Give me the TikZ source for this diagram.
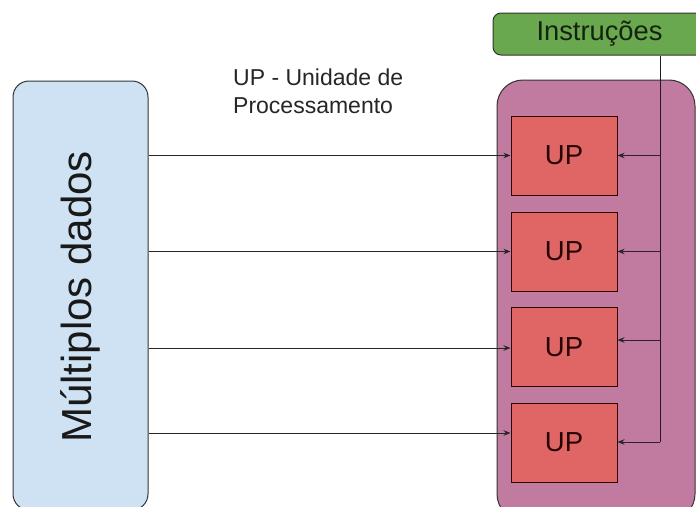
\documentclass[tikz,border=0pt]{standalone}
\usepackage{fontspec}
\setmainfont{Liberation Sans}
\usetikzlibrary{arrows.meta}
\definecolor{dblue}{HTML}{CFE2F3}
\definecolor{dpurple}{HTML}{C27BA0}
\definecolor{dred}{HTML}{E06666}
\definecolor{dgreen}{HTML}{6AA84F}
\definecolor{lgray}{HTML}{333333}
\tikzset{
  bigbox/.style={draw=lgray, line width=1pt, rounded corners=#1, inner sep=0pt},
  upbox/.style={draw=black!80!red, line width=1pt, fill=dred, minimum width=106pt, minimum height=79pt, inner sep=0pt, font=\fontsize{27.5}{31}\selectfont, text=black!85!red},
  arr/.style={line width=0.9pt, draw=black!85, -{Stealth[length=7pt,width=5.5pt]}},
  bus/.style={line width=0.9pt, draw=black!80!dpurple},
  lab/.style={anchor=base west, inner sep=0pt, font=\fontsize{23}{27}\selectfont, text=black!85}
}
\begin{document}
\begin{tikzpicture}[x=1pt,y=-1pt]
\useasboundingbox (0,0) rectangle (696,506);
\clip (0,0) rectangle (696,506);
\fill[white] (0,0) rectangle (696,506);
% left data box
\node[bigbox=16pt, fill=dblue, minimum width=135pt, minimum height=429pt] (dados) at (80.5,295.5) {};
\node[rotate=90, font=\fontsize{42}{46}\selectfont, text=black!90] (dadostxt) at (80,297) {Múltiplos dados};
% purple container
\node[bigbox=26pt, fill=dpurple, minimum width=198pt, minimum height=440pt] (cont) at (596,300) {};
% instructions box
\node[bigbox=8pt, fill=dgreen, minimum width=217pt, minimum height=42pt] (instr) at (601.5,34) {};
\node[font=\fontsize{27.3}{30}\selectfont, text=black!80!dgreen] (instrtxt) at (599.5,34) {Instruções};
% UP boxes
\node[upbox] (up1) at (564,155.5) {UP};
\node[upbox] (up2) at (564,251.5) {UP};
\node[upbox] (up3) at (564,347) {UP};
\node[upbox] (up4) at (564,442.5) {UP};
% label
\node[lab] (lab1) at (233,85) {UP - Unidade de};
\node[lab] (lab2) at (233,113) {Processamento};
% data arrows
\draw[arr] (up1.west -| dados.east) -- (up1.west);
\draw[arr] (up2.west -| dados.east) -- (up2.west);
\draw[arr] ([yshift=-1pt]up3.west -| dados.east) -- ([yshift=-1pt]up3.west);
\draw[arr] ([yshift=9.5pt]up4.west -| dados.east) -- ([yshift=9.5pt]up4.west);
% instruction bus
\coordinate (busend) at (660,442);
\draw[bus] (instr.south -| busend) -- (busend);
\draw[arr] (up1.east -| busend) -- (up1.east);
\draw[arr] (up2.east -| busend) -- (up2.east);
\draw[arr] ([yshift=7pt]up3.east -| busend) -- ([yshift=7pt]up3.east);
\draw[arr] (busend) -- (busend -| up4.east);
\end{tikzpicture}
\end{document}
